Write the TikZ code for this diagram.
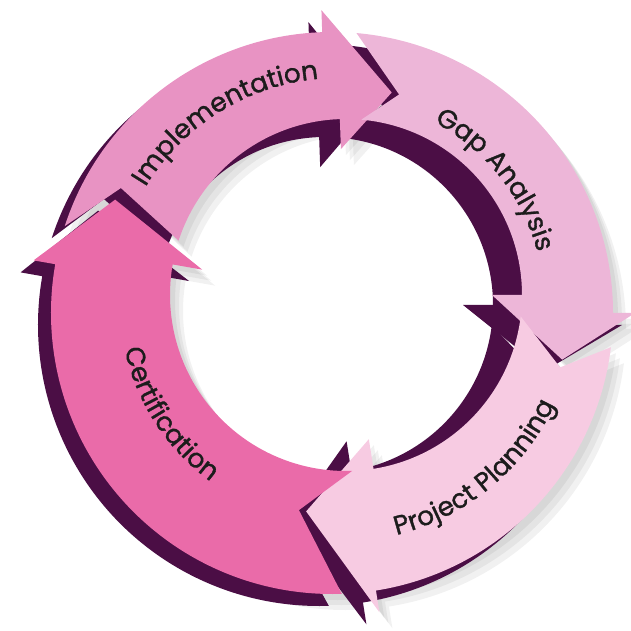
\documentclass[tikz,border=0pt]{standalone}
\usepackage{fontspec}
\setmainfont{Poppins}
\newfontfamily\labelfont{Poppins}[FakeBold=1.2]
\usetikzlibrary{calc,decorations.text}

\definecolor{plum}{HTML}{4B0E45}
\definecolor{implpink}{HTML}{E893C3}
\definecolor{gappink}{HTML}{EDB6D8}
\definecolor{planpink}{HTML}{F7CBE2}
\definecolor{certpink}{HTML}{EA6BA9}
\definecolor{labelink}{HTML}{1C1C1C}

% ring radii (outer / inner)
\newcommand{\outr}{281}
\newcommand{\inr}{176}
% tail, notch angle, notch radius, base, tip angle, tip radius
\newcommand{\ringarrow}[6]{%
  ($(oc)+(#1:\outr)$) arc[start angle=#1, end angle=#4, radius=\outr]
  -- ($(oc)+(#4:\outr+22)$) -- ($(mc)+(#5:#6)$)
  -- ($(ic)+(#4:\inr-30)$) -- ($(ic)+(#4:\inr)$)
  arc[start angle=#4, end angle=#1, radius=\inr]
  -- ($(mc)+(#2:#3)$) -- cycle}
% four arrows of the cycle, filled with the given style
\newcommand{\allarrows}[4]{%
  \fill[#1] \ringarrow{162}{152}{247}{92}{76}{218};
  \fill[#2] \ringarrow{85}{74}{218}{0}{-14}{230};
  \fill[#3] \ringarrow{-7}{-16}{230}{-81}{-99}{210};
  \fill[#4] \ringarrow{272}{259}{210}{170}{155}{247};}

\begin{document}
\begin{tikzpicture}[x=0.02cm, y=0.02cm,
    softshade/.style={black, fill opacity=0.055},
    lbl/.style={decorate, decoration={text along path, text align=center,
        text color=labelink}}
]
    \useasboundingbox (-332,-318) rectangle (299,313);

    % Drop shadow
    \foreach \dx/\dy in {5/-6, 9/-11, 13/-16} {
        \coordinate (oc) at (\dx,\dy);
        \coordinate (ic) at (14+\dx,18+\dy);
        \coordinate (mc) at (7+\dx,9+\dy);
        \allarrows{softshade}{softshade}{softshade}{softshade}
    }

    % Back faces
    \coordinate (oc) at (-13,-12);
    \coordinate (ic) at (-7,8);
    \coordinate (mc) at (-10,-2);
    \begin{scope}
        \renewcommand{\inr}{168}
        \allarrows{plum}{plum}{plum}{plum}
    \end{scope}

    % Front faces
    \coordinate (oc) at (0,0);
    \coordinate (ic) at (14,18);
    \coordinate (mc) at (7,9);
    \allarrows{implpink}{gappink}{planpink}{certpink}

    % Labels
    \path[lbl, decoration={text={|\labelfont\fontsize{15}{18}\selectfont|Implementation}}]
        ($(mc)+(167:226)$) arc[start angle=167, end angle=77, radius=226];
    \path[lbl, decoration={text={|\labelfont\fontsize{15}{18}\selectfont|Gap Analysis}}]
        ($(mc)+(83:205)$) arc[start angle=83, end angle=-6, radius=205];
    \path[lbl, decoration={text={|\labelfont\fontsize{15}{18}\selectfont|Project Planning}}]
        ($(mc)+(-101:238)$) arc[start angle=-101, end angle=0, radius=238];
    \path[lbl, decoration={text={|\labelfont\fontsize{15}{18}\selectfont|Certification}}]
        ($(mc)+(168:219)$) arc[start angle=168, end angle=258, radius=219];
\end{tikzpicture}
\end{document}
